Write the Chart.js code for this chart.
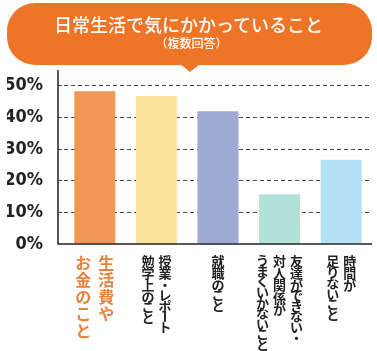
<!DOCTYPE html>
<html>
<head>
<meta charset="utf-8">
<script src="https://cdn.jsdelivr.net/npm/chart.js@4"></script>
<style>
  body { margin: 0; background: #fff; }
  #wrap { position: relative; width: 377px; height: 351px; overflow: hidden; }
  #chart { position: absolute; left: 0; top: 0; }
  .bubble {
    position: absolute; left: 7px; top: 3px; width: 365px; height: 62px;
    background: #EE7427; border-radius: 28px;
  }
  .tail {
    position: absolute; left: 180px; top: 64px; width: 0; height: 0;
    border-left: 10px solid transparent; border-right: 10px solid transparent;
    border-top: 8px solid #EE7427;
  }
  .title, .sub {
    position: absolute; left: 0; width: 377px; text-align: center; color: #fff;
    font-family: "Noto Sans CJK JP", sans-serif;
  }
  .title { top: 13px; font-size: 18px; line-height: 22px; font-weight: 500; }
  .sub { top: 35px; font-size: 12px; line-height: 16px; font-weight: 500; padding-left: 6px; box-sizing: border-box; }
</style>
</head>
<body>
<div id="wrap">
  <canvas id="chart" width="377" height="351"></canvas>
  <div class="bubble"></div>
  <div class="tail"></div>
  <div class="title">日常生活で気にかかっていること</div>
  <div class="sub">（複数回答）</div>
</div>
<script>
// Categories, written as vertical columns (right column first)
const categories = [
    ['生活費や', 'お金のこと'],
    ['授業・レポート', '勉学上のこと'],
    ['就職のこと'],
    ['友達ができない・', '対人関係が', 'うまくいかないこと'],
    ['時間が', '足りないこと']
];
const values = [48.3, 46.8, 42.0, 15.7, 26.6];
const barColors = ['#F29655', '#FCE39A', '#A0A8D4', '#B4E0DA', '#B4E1F5'];
const yTicks = [0, 10, 20, 30, 40, 50];

// Axis lines sit a little left of the plot area
const axisLines = {
    id: 'axisLines',
    afterDatasetsDraw(chart) {
        const { ctx, chartArea: a } = chart;
        const x0 = a.left - 6;
        ctx.save();
        ctx.strokeStyle = '#222';
        ctx.lineWidth = 1.5;
        ctx.beginPath();
        ctx.moveTo(x0, a.top);
        ctx.lineTo(x0, a.bottom);
        ctx.lineTo(a.right, a.bottom);
        ctx.stroke();
        ctx.restore();
    }
};

// Vertical (tategaki) category labels under each bar
const isKanji = ch => /[\u4e00-\u9fff]/.test(ch);
const verticalLabels = {
    id: 'verticalLabels',
    afterDraw(chart) {
        const { ctx, chartArea: a } = chart;
        const xs = chart.scales.x;
        ctx.save();
        ctx.textAlign = 'center';
        ctx.textBaseline = 'middle';
        categories.forEach((cols, i) => {
            const cx = xs.getPixelForValue(i);
            const first = i === 0;
            const size = first ? 16 : 13;
            const gap = first ? 23 : 17;
            ctx.fillStyle = first ? '#E9823E' : '#222';
            ctx.font = 'bold ' + size + 'px "Noto Sans CJK JP", sans-serif';
            cols.forEach((col, j) => {
                const colX = cx + ((cols.length - 1) / 2 - j) * gap;
                let y = a.bottom + 11;
                for (const ch of col) {
                    const adv = first ? 16.8 : (isKanji(ch) ? 12.2 : 10.6);
                    const cy = y + adv / 2;
                    if (ch === 'ー') {
                        ctx.save();
                        ctx.translate(colX, cy);
                        ctx.rotate(Math.PI / 2);
                        ctx.fillText(ch, 0, 0);
                        ctx.restore();
                    } else {
                        ctx.fillText(ch, colX, cy);
                    }
                    y += adv;
                }
            });
        });
        ctx.restore();
    }
};

const ctx = document.getElementById('chart').getContext('2d');
const chart = new Chart(ctx, {
    type: 'bar',
    data: {
        labels: categories.map(c => c.join('')),
        datasets: [{
            data: values,
            backgroundColor: barColors,
            categoryPercentage: 1,
            barPercentage: 0.666
        }]
    },
    options: {
        responsive: false,
        animation: false,
        layout: { padding: { left: 7, right: 5, top: 70, bottom: 107 } },
        plugins: {
            legend: { display: false },
            tooltip: { enabled: false }
        },
        scales: {
            x: { display: false },
            y: {
                min: 0,
                max: 55,
                afterBuildTicks: s => { s.ticks = yTicks.map(v => ({ value: v })); },
                afterFit: s => { s.width = 57; },
                border: { display: false, dash: [4, 3] },
                grid: {
                    color: c => c.tick.value === 0 ? 'rgba(0,0,0,0)' : '#444',
                    lineWidth: 1,
                    drawTicks: true,
                    tickLength: 6,
                    tickBorderDash: [4, 3]
                },
                ticks: {
                    padding: 15,
                    color: '#222',
                    font: { family: "'DejaVu Sans Condensed', sans-serif", size: 18, weight: 'bold' },
                    callback: v => v + '%'
                }
            }
        }
    },
    plugins: [axisLines, verticalLabels]
});
</script>
</body>
</html>
